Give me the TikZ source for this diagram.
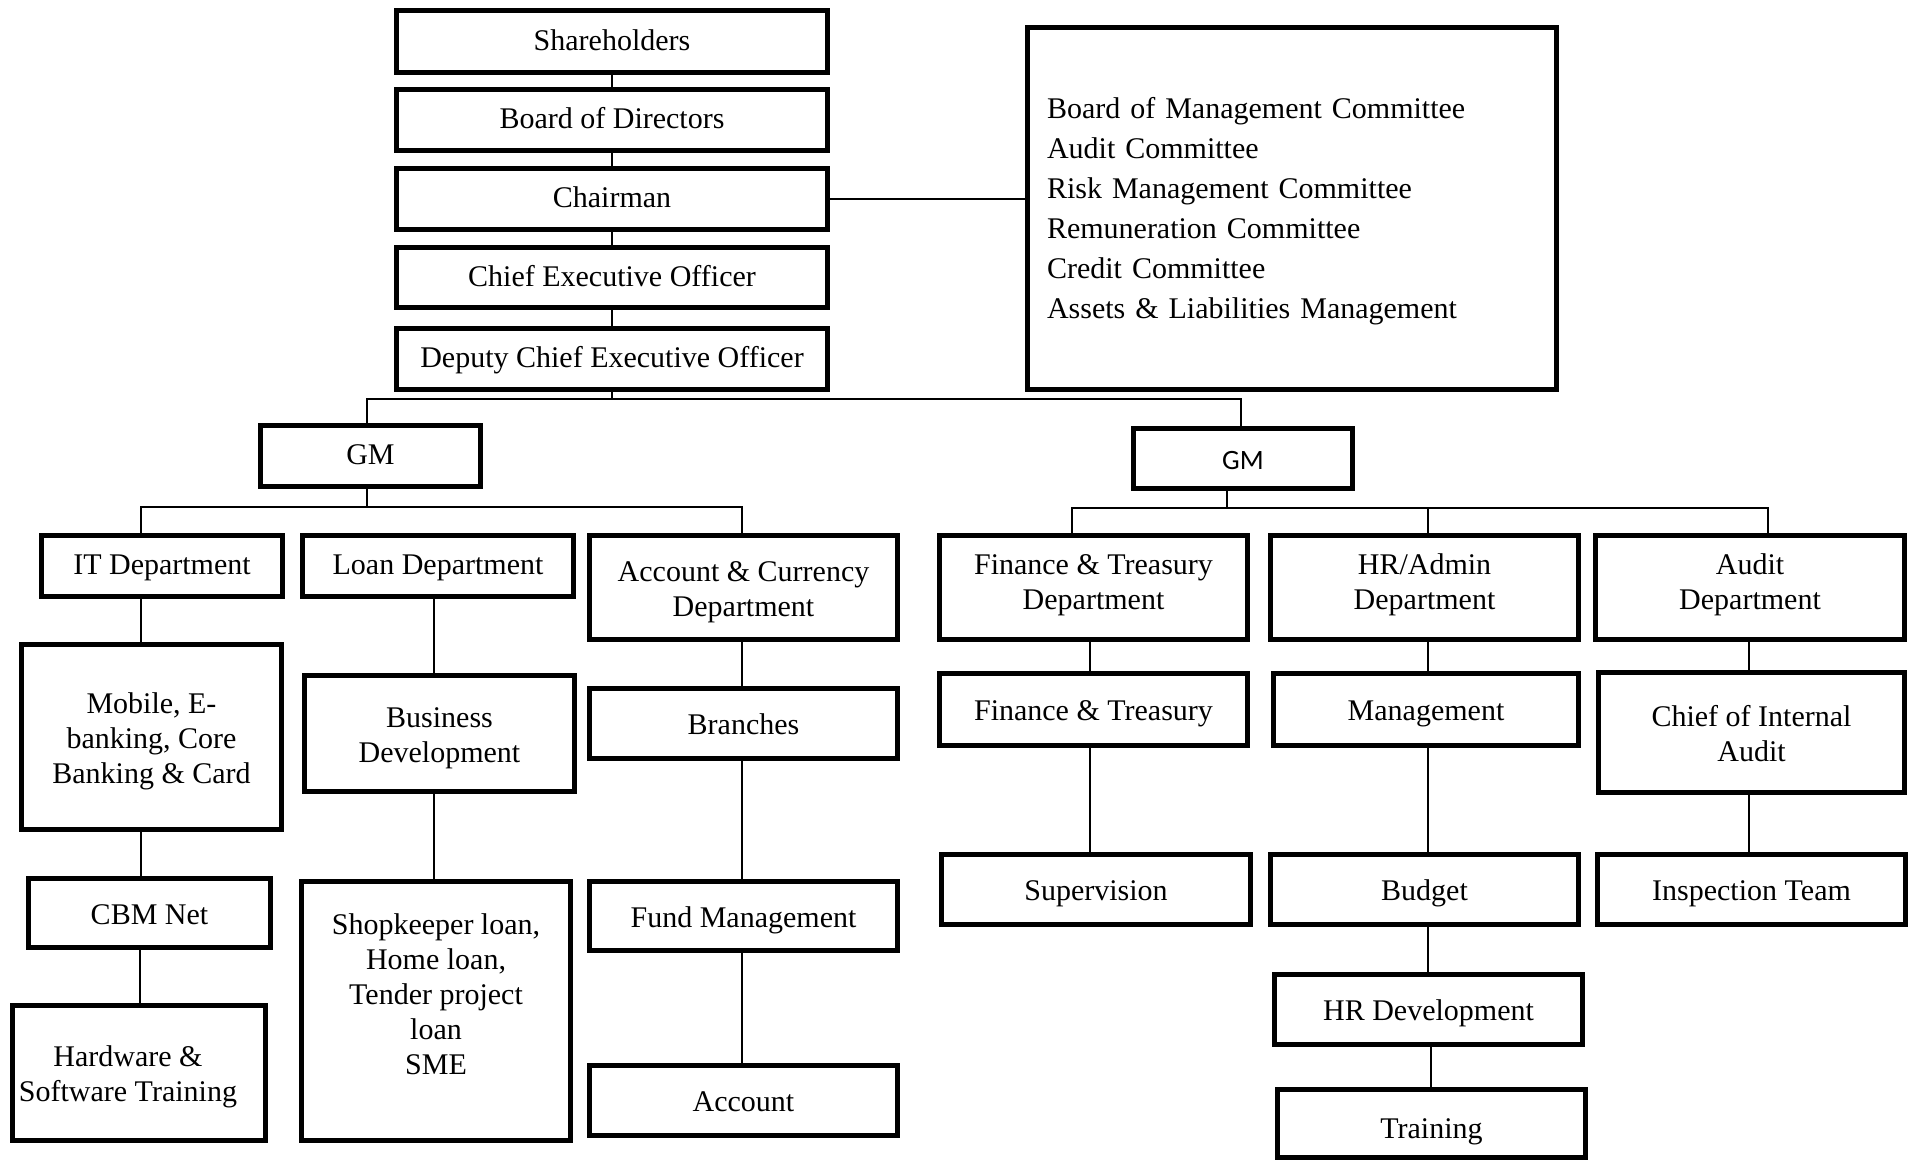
\documentclass[tikz,border=0pt]{standalone}
\usepackage{fontspec}
\setmainfont{Liberation Serif}
\newfontfamily\gmfont{Carlito}
\newcommand\mystrut{\rule[-6.5pt]{0pt}{33.2pt}}
\newcommand\boxstrut{\rule[-6.5pt]{0pt}{35pt}}
\newcommand\txup[1]{\rule[\dimexpr-6.5pt-#1pt-#1pt\relax]{0pt}{0pt}}
\newcommand\txdown[1]{\rule{0pt}{\dimexpr35pt+#1pt+#1pt\relax}}
\newcommand\mybox[7][]{\node[box,#1,minimum width={(#5-#3-5)*1pt},minimum height={(#6-#4-5)*1pt}] (#2) at ({(#3+#5)/2},{(#4+#6)/2}) {\boxstrut#7\boxstrut};}
\newcommand\vcon[3]{\path (#3,0) coordinate (tmpx); \draw[conn] (#1.south -| tmpx) -- (#2.north -| tmpx);}
\begin{document}
\begin{tikzpicture}[x=1pt,y=-1pt,
  box/.style={draw,line width=5pt,fill=white,inner sep=0pt,align=center,font=\fontsize{30}{35}\selectfont},
  conn/.style={line width=2pt}]
\useasboundingbox (0,0) rectangle (1913,1161);
% top column
\mybox{sh}{394}{8}{830}{75}{Shareholders\txup{2}}
\mybox{bod}{394}{87}{830}{153}{Board of Directors\txup{2.5}}
\mybox{chair}{394}{166}{830}{232}{Chairman\txup{2.5}}
\mybox{ceo}{394}{245}{830}{310}{Chief Executive Officer\txup{2.5}}
\mybox{dceo}{394}{326}{830}{392}{Deputy Chief Executive Officer\txup{2.5}}
\node[box,align=left,minimum width=529pt,minimum height=362pt,text width=490pt,font=\fontsize{30}{40}\selectfont] (comm) at (1292,208.5)
 {\mystrut Board of Management Committee\\Audit Committee\\Risk Management Committee\\Remuneration Committee\\Credit Committee\\Assets \& Liabilities Management\mystrut};
% GMs
\mybox{gmL}{258}{423}{483}{489}{GM\txup{2.5}}
\mybox[font=\gmfont\fontsize{28}{33}\selectfont]{gmR}{1131}{426}{1355}{491}{GM}
% left branch
\mybox{it}{39}{533}{285}{599}{IT Department\txup{2.5}}
\mybox{loan}{300}{533}{576}{599}{Loan Department\txup{2.5}}
\mybox{acc}{587}{533}{900}{642}{Account \& Currency\\Department}
\mybox{mob}{19}{642}{284}{832}{Mobile, E-\\banking, Core\\Banking \& Card}
\mybox{bd}{302}{673}{577}{794}{Business\\Development}
\mybox{br}{587}{686}{900}{761}{Branches}
\mybox{cbm}{26}{876}{273}{950}{CBM Net}
\mybox{hw}{10}{1003}{268}{1143}{Hardware \&\hspace*{22pt}\\Software Training\hspace*{22pt}}
\mybox{shop}{299}{879}{573}{1143}{Shopkeeper loan,\\Home loan,\\Tender project\\loan\\SME\\\mbox{}}
\mybox{fund}{587}{879}{900}{953}{Fund Management}
\mybox{acct}{587}{1063}{900}{1138}{Account}
% right branch
\mybox{ftd}{937}{533}{1250}{642}{Finance \& Treasury\\Department\txup{7}}
\mybox{hrd}{1268}{533}{1581}{642}{HR/Admin\\Department\txup{7}}
\mybox{aud}{1593}{533}{1907}{642}{Audit\\Department\txup{7}}
\mybox{ft}{937}{671}{1250}{748}{Finance \& Treasury}
\mybox{mgmt}{1271}{671}{1581}{748}{Management}
\mybox{cia}{1596}{670}{1907}{795}{Chief of Internal\\Audit}
\mybox{sup}{939}{852}{1253}{927}{Supervision}
\mybox{bud}{1268}{852}{1581}{927}{Budget}
\mybox{insp}{1595}{852}{1908}{927}{Inspection Team}
\mybox{hrdev}{1272}{972}{1585}{1047}{HR Development}
\mybox{train}{1275}{1087}{1588}{1160}{\txdown{0.8}Training}
% connectors top
\draw[conn] (sh) -- (bod);
\draw[conn] (bod) -- (chair);
\draw[conn] (chair) -- (ceo);
\draw[conn] (ceo) -- (dceo);
\draw[conn] (chair.east) -- (chair.east -| comm.west);
\coordinate (bT) at (612,399);
\coordinate (bT1) at (367,399);
\coordinate (bT2) at (1241,399);
\draw[conn] (dceo.south) -- (bT);
\draw[conn] (gmL.north -| bT1) -- (bT1) -- (bT2) -- (gmR.north -| bT2);
% left bus
\coordinate (gLbus) at (367,507);
\coordinate (bL1) at (141,507);
\coordinate (bL2) at (742,507);
\draw[conn] (gmL.south -| gLbus) -- (gLbus);
\draw[conn] (it.north -| bL1) -- (bL1) -- (bL2) -- (acc.north -| bL2);
% right bus
\coordinate (gRbus) at (1227,508);
\coordinate (bR1) at (1072,508);
\coordinate (bR2) at (1428,508);
\coordinate (bR3) at (1768,508);
\draw[conn] (gmR.south -| gRbus) -- (gRbus);
\draw[conn] (ftd.north -| bR1) -- (bR1) -- (bR3) -- (aud.north -| bR3);
\draw[conn] (bR2) -- (hrd.north -| bR2);
% vertical chains
\vcon{it}{mob}{141}
\vcon{mob}{cbm}{141}
\vcon{cbm}{hw}{140}
\vcon{loan}{bd}{434}
\vcon{bd}{shop}{434}
\vcon{acc}{br}{742}
\vcon{br}{fund}{742}
\vcon{fund}{acct}{742}
\vcon{ftd}{ft}{1090}
\vcon{ft}{sup}{1090}
\vcon{hrd}{mgmt}{1428}
\vcon{mgmt}{bud}{1428}
\vcon{bud}{hrdev}{1428}
\vcon{hrdev}{train}{1431}
\vcon{aud}{cia}{1749}
\vcon{cia}{insp}{1749}
\end{tikzpicture}
\end{document}
